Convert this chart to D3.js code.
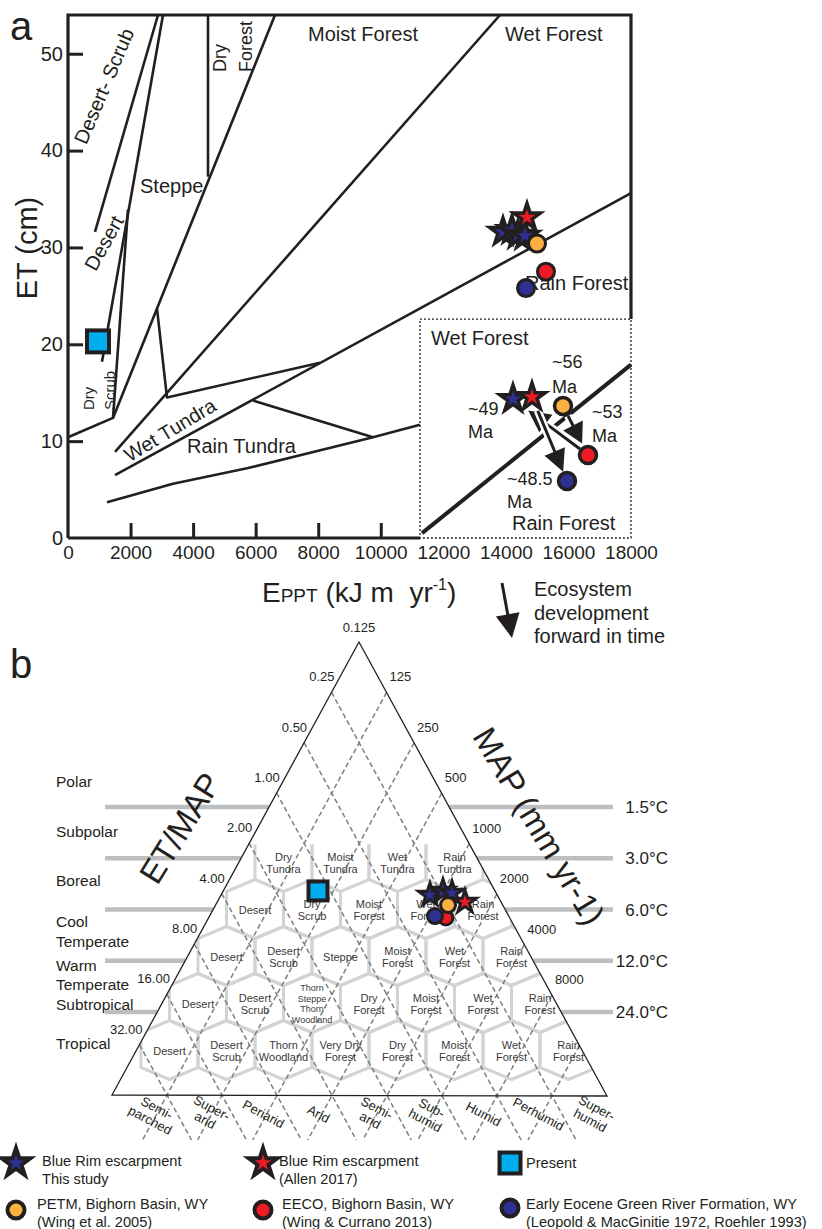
<!DOCTYPE html>
<html>
<head>
<meta charset="utf-8">
<script src="https://cdn.jsdelivr.net/npm/d3@7"></script>
<style>
  body { margin: 0; background: #fff; }
  svg { display: block; font-family: "Liberation Sans", Arial, sans-serif; }
</style>
</head>
<body>
<svg id="chart" width="822" height="1229"></svg>
<script>
// ---------- panel a: EPPT (kJ m-2 yr-1) vs ET (cm) ----------
const epptTicks = [0, 2000, 4000, 6000, 8000, 10000, 12000, 14000, 16000, 18000];
const epptMarks = [2000, 4000, 6000, 8000, 10000];
const etTicks = [0, 10, 20, 30, 40, 50];

// life-zone boundaries, [EPPT, ET]
const desertScrubLine = [[2877, 54], [863, 31.6]];
const desertLine = [[3037, 54], [1087, 18.2]];
const dryScrubLine = [[1918, 33.9], [1439, 12.4], [0, 10.4]];
const steppeLine = [[6618, 54], [1439, 12.4]];
const dryForestLine = [[4476, 54], [4476, 37.3]];
const moistWetLine = [[13812, 54], [1503, 8.9]];
const tundraSpur = [[2845, 23.7], [3165, 14.5], [8057, 18.1]];
const wetRainLine = [[1503, 6.5], [18000, 35.6]];
const rainTundraTop = [[5915, 14.2], [9751, 10.4]];
const rainTundraBase = [[1247, 3.7], [3357, 5.6], [5723, 7.2], [9751, 10.4], [11254, 11.7]];
const insetLine = [[11320, 0.5], [18000, 17.9]];
const insetBox = [11254, 18000, 0, 22.6];

// sites
const blueRimA = [[13908, 31.6], [14195, 31.8], [14387, 31.3], [14611, 31.2]];
const allenA = [14675, 33.1];
const petmA = [14995, 30.4];
const eecoA = [15282, 27.5];
const greenRiverA = [14643, 25.8];
const presentA = [959, 20.3];
// enlarged sketch in the dotted box
const blueRimInset = [14227, 14.35];
const allenInset = [14835, 14.56];
const petmInset = [15826, 13.63];
const eecoInset = [16625, 8.57];
const greenRiverInset = [15954, 5.89];

// ---------- panel b: Holdridge triangle ----------
const petRatioTicks = [0.25, 0.5, 1, 2, 4, 8, 16, 32];
const petRatioLabels = ['0.25', '0.50', '1.00', '2.00', '4.00', '8.00', '16.00', '32.00'];
const mapTicks = [125, 250, 500, 1000, 2000, 4000, 8000, 16000];
const mapLabels = ['125', '250', '500', '1000', '2000', '4000', '8000', ''];
const humidity = [['Semi-', 'parched'], ['Super-', 'arid'], ['Periarid'], ['Arid'], ['Semi-', 'arid'],
  ['Sub-', 'humid'], ['Humid'], ['Perhumid'], ['Super-', 'humid']];
const biotemps = [1.5, 3, 6, 12, 24];
const tempLabels = ['1.5\u00b0C', '3.0\u00b0C', '6.0\u00b0C', '12.0\u00b0C', '24.0\u00b0C'];
const belts = [['Polar'], ['Subpolar'], ['Boreal'], ['Cool', 'Temperate'], ['Warm', 'Temperate', 'Subtropical'], ['Tropical']];
// life zones, bottom row first
const lifeZones = [
  ['Desert', 'Desert Scrub', 'Thorn Woodland', 'Very Dry Forest', 'Dry Forest', 'Moist Forest', 'Wet Forest', 'Rain Forest'],
  ['Desert', 'Desert Scrub', 'Thorn Steppe Thorn Woodland', 'Dry Forest', 'Moist Forest', 'Wet Forest', 'Rain Forest'],
  ['Desert', 'Desert Scrub', 'Steppe', 'Moist Forest', 'Wet Forest', 'Rain Forest'],
  ['Desert', 'Dry Scrub', 'Moist Forest', 'Wet Forest', 'Rain Forest'],
  ['Dry Tundra', 'Moist Tundra', 'Wet Tundra', 'Rain Tundra']
];
// sites as [ET/MAP, MAP mm]
const blueRimB = [[0.292, 867], [0.241, 994], [0.218, 1129]];
const allenB = [0.197, 1413];
const petmB = [0.249, 1166];
const eecoB = [0.280, 1242];
const greenRiverB = [0.317, 1067];
const presentB = [1.166, 206];

const ink = '#231f20';
const col = { blue: '#2e3192', red: '#ed1c24', orange: '#fbb040', cyan: '#00aeef' };
const svg = d3.select('#chart');

// draw one marker
function mark(g, type, p, fill, r, sw) {
  if (type === 'star') {
    g.append('path').attr('d', d3.symbol(d3.symbolStar, r * r / 0.8908)())
      .attr('transform', `translate(${p[0]},${p[1]})`)
      .attr('fill', fill).attr('stroke', ink).attr('stroke-width', sw).attr('stroke-linejoin', 'miter');
  } else if (type === 'circle') {
    g.append('circle').attr('cx', p[0]).attr('cy', p[1]).attr('r', r)
      .attr('fill', fill).attr('stroke', ink).attr('stroke-width', sw);
  } else {
    g.append('rect').attr('x', p[0] - r).attr('y', p[1] - r).attr('width', 2 * r).attr('height', 2 * r)
      .attr('fill', fill).attr('stroke', ink).attr('stroke-width', sw);
  }
}

function arrow(g, p0, p1, trim0, trim1, head, halfW, halo) {
  const dx = p1[0] - p0[0], dy = p1[1] - p0[1], len = Math.hypot(dx, dy);
  const ux = dx / len, uy = dy / len;
  const s = [p0[0] + ux * trim0, p0[1] + uy * trim0];
  const tip = [p1[0] - ux * trim1, p1[1] - uy * trim1];
  const b = [tip[0] - ux * head, tip[1] - uy * head];
  const tri = 'M' + [tip, [b[0] - uy * halfW, b[1] + ux * halfW], [b[0] + uy * halfW, b[1] - ux * halfW]].join('L') + 'Z';
  if (halo) {
    g.append('line').attr('x1', s[0]).attr('y1', s[1]).attr('x2', b[0]).attr('y2', b[1])
      .attr('stroke', '#fff').attr('stroke-width', 8);
    g.append('path').attr('d', tri).attr('fill', '#fff').attr('stroke', '#fff').attr('stroke-width', 4);
  }
  g.append('line').attr('x1', s[0]).attr('y1', s[1]).attr('x2', b[0] + ux * 2).attr('y2', b[1] + uy * 2)
    .attr('stroke', ink).attr('stroke-width', 3);
  g.append('path').attr('d', tri).attr('fill', ink);
}

function label(g, txt, px, py, size, opt = {}) {
  const t = g.append('text').attr('font-size', size).attr('fill', opt.fill || ink)
    .attr('text-anchor', opt.anchor || 'start')
    .attr('transform', `translate(${px},${py})` + (opt.rot ? ` rotate(${opt.rot})` : ''))
    .text(txt);
  if (opt.dy) t.attr('dy', opt.dy);
  return t;
}

// ================= panel a =================
const x = d3.scaleLinear().domain([0, 18000]).range([68, 631]);
const y = d3.scaleLinear().domain([0, 54]).range([538, 15]);
const line = d3.line().x(d => x(d[0])).y(d => y(d[1]));
const ga = svg.append('g');

ga.selectAll('path.zone')
  .data([desertScrubLine, desertLine, dryScrubLine, steppeLine, dryForestLine, moistWetLine,
    tundraSpur, wetRainLine, rainTundraTop, rainTundraBase])
  .join('path').attr('class', 'zone').attr('d', line)
  .attr('fill', 'none').attr('stroke', ink).attr('stroke-width', 2.6).attr('stroke-linejoin', 'round');

// inset box and its boundary
ga.append('rect').attr('x', x(insetBox[0])).attr('y', y(insetBox[3]))
  .attr('width', x(insetBox[1]) - x(insetBox[0])).attr('height', y(insetBox[2]) - y(insetBox[3]))
  .attr('fill', 'none').attr('stroke', ink).attr('stroke-width', 1.3).attr('stroke-dasharray', '2,2');
ga.append('path').attr('d', line(insetLine)).attr('fill', 'none').attr('stroke', ink).attr('stroke-width', 4);

// frame
ga.append('path')
  .attr('d', `M${x(0)},${y(0)}V${y(54)}H${x(18000)}V${y(insetBox[3])}M${x(0)},${y(0)}H${x(insetBox[0])}`)
  .attr('fill', 'none').attr('stroke', ink).attr('stroke-width', 3.2);

// axes
const yAxis = ga.append('g').attr('transform', `translate(${x(0)},0)`)
  .call(d3.axisLeft(y).tickValues(etTicks).tickFormat(d3.format('d'))
    .tickSizeInner(-15).tickSizeOuter(0).tickPadding(5));
yAxis.attr('font-family', null).attr('font-size', null);
yAxis.select('.domain').remove();
yAxis.selectAll('.tick line').attr('stroke', ink).attr('stroke-width', 3).filter(d => d === 0).remove();
yAxis.selectAll('.tick text').attr('font-size', 20).attr('fill', ink);

const xAxis = ga.append('g').attr('transform', `translate(0,${y(0)})`)
  .call(d3.axisBottom(x).tickValues(epptTicks).tickFormat(d3.format('d'))
    .tickSizeInner(-15).tickSizeOuter(0).tickPadding(8));
xAxis.attr('font-family', null).attr('font-size', null);
xAxis.select('.domain').remove();
xAxis.selectAll('.tick line').attr('stroke', ink).attr('stroke-width', 3)
  .filter(d => !epptMarks.includes(d)).remove();
xAxis.selectAll('.tick text').attr('font-size', 19).attr('fill', ink);

// axis titles
label(ga, 'a', 10, 40, 40);
label(ga, 'ET (cm)', 37, 248, 29, { rot: -90, anchor: 'middle' });
const xt = ga.append('text').attr('x', 262).attr('y', 602).attr('font-size', 28).attr('fill', ink);
xt.append('tspan').text('E');
xt.append('tspan').attr('font-size', 19).text('PPT');
xt.append('tspan').text(' (kJ m\u00a0\u00a0yr');
xt.append('tspan').attr('font-size', 16).attr('dy', -12).text('-1');
xt.append('tspan').attr('dy', 12).text(')');

// zone names
label(ga, 'Desert- Scrub', 104, 86, 20, { rot: -67, anchor: 'middle', dy: '0.35em' });
label(ga, 'Desert', 104, 243, 20, { rot: -61, anchor: 'middle', dy: '0.35em' });
label(ga, 'Steppe', 140, 193, 20);
label(ga, 'Dry', 226, 72, 18, { rot: -90 });
label(ga, 'Forest', 252, 72, 18, { rot: -90 });
label(ga, 'Moist Forest', 308, 41, 20);
label(ga, 'Wet Forest', 505, 41, 20);
label(ga, 'Rain Forest', 525, 290, 20);
label(ga, 'Dry', 94, 410, 15, { rot: -90 });
label(ga, 'Scrub', 115, 410, 15, { rot: -90 });
label(ga, 'Wet Tundra', 170, 430, 20, { rot: -31, anchor: 'middle', dy: '0.35em' });
label(ga, 'Rain Tundra', 187, 453, 20);
label(ga, 'Wet Forest', 431, 345, 20);
label(ga, 'Rain Forest', 512, 530, 20);

// inset arrows, ages and sites
const P = d => [x(d[0]), y(d[1])];
arrow(ga, P(petmInset), P(eecoInset), 11, 13, 20, 11, true);
arrow(ga, P(eecoInset), P(blueRimInset), 10, 19, 22, 11, true);
arrow(ga, P(allenInset), P(greenRiverInset), 15, 10, 22, 11, true);
[['~56', 552, 368], ['Ma', 552, 393], ['~49', 468, 415], ['Ma', 468, 438],
 ['~53', 592, 418], ['Ma', 592, 442], ['~48.5', 507, 485], ['Ma', 507, 508]]
  .forEach(d => label(ga, d[0], d[1], d[2], 18));
mark(ga, 'star', P(blueRimInset), col.blue, 14, 3.5);
mark(ga, 'star', P(allenInset), col.red, 14, 3.5);
mark(ga, 'circle', P(petmInset), col.orange, 8.5, 3.5);
mark(ga, 'circle', P(eecoInset), col.red, 8.5, 3.5);
mark(ga, 'circle', P(greenRiverInset), col.blue, 8.5, 3.5);

// main sites
blueRimA.forEach(d => mark(ga, 'star', P(d), col.blue, 14, 3.5));
mark(ga, 'star', P(allenA), col.red, 14, 3.5);
mark(ga, 'circle', P(petmA), col.orange, 8.5, 3);
mark(ga, 'circle', P(eecoA), col.red, 8.5, 3);
mark(ga, 'circle', P(greenRiverA), col.blue, 8.5, 3);
mark(ga, 'square', P(presentA), col.cyan, 11, 4);

// time arrow
arrow(ga, [502, 583], [512, 638], 0, 0, 24, 12, false);
[['Ecosystem', 596], ['development', 620], ['forward in time', 643]]
  .forEach(d => label(ga, d[0], 534, d[1], 20));

// ================= panel b =================
const gb = svg.append('g');
const A = [359, 642], Lc = [112, 1095], Rc = [607, 1096];
const petScale = d3.scaleLog().base(2).domain([0.125, 64]).range([0, 1]);
const mapScale = d3.scaleLog().base(2).domain([62.5, 32000]).range([0, 1]);
const tern = (ratio, map) => {
  const a = petScale(ratio), b = mapScale(map);
  return [A[0] + a * (Lc[0] - A[0]) + b * (Rc[0] - A[0]), A[1] + a * (Lc[1] - A[1]) + b * (Rc[1] - A[1])];
};
const sideX = (yy, c) => A[0] + (yy - A[1]) * (c[0] - A[0]) / (c[1] - A[1]);
const beltY = d3.scaleLog().base(2).domain([1.5, 24]).range([807, 1012]);

// biotemperature belts
biotemps.forEach((t, i) => {
  const yy = beltY(t);
  gb.append('line').attr('x1', 105).attr('x2', sideX(yy, Lc)).attr('y1', yy).attr('y2', yy)
    .attr('stroke', '#bcbec0').attr('stroke-width', 4.5);
  gb.append('line').attr('x1', sideX(yy, Rc)).attr('x2', 613).attr('y1', yy).attr('y2', yy)
    .attr('stroke', '#bcbec0').attr('stroke-width', 4.5);
  label(gb, tempLabels[i], 668, yy + 6, 17, { anchor: 'end' });
});
const beltMid = [782, 832, 881, 932, 985, 1044];
belts.forEach((b, i) => b.forEach((s, j) =>
  label(gb, s, 56, beltMid[i] + (j - (b.length - 1) / 2) * 19.5 + 5, 15.5)));

// hexagons
gb.append('clipPath').attr('id', 'tri').append('path')
  .attr('d', 'M' + [A, Lc, Rc].join('L') + 'Z');
const hexW = 57, hexH = 59, hexE = 35, rowStep = 47;
const hexG = gb.append('g').attr('clip-path', 'url(#tri)')
  .attr('fill', 'none').attr('stroke', '#d1d3d4').attr('stroke-width', 3);
const hexCenter = (r, i) => [169.5 + hexW * i + hexW / 2 * r, 1050 - rowStep * r];
lifeZones.forEach((row, r) => row.forEach((name, i) => {
  const [cx, cy] = hexCenter(r, i);
  const d = r < lifeZones.length - 1
    ? `M${cx},${cy - hexH / 2}L${cx + hexW / 2},${cy - hexE / 2}V${cy + hexE / 2}L${cx},${cy + hexH / 2}L${cx - hexW / 2},${cy + hexE / 2}V${cy - hexE / 2}Z`
    : `M${cx - hexW / 2},${cy - hexE / 2}V${cy + hexE / 2}M${cx + hexW / 2},${cy - hexE / 2}V${cy + hexE / 2}`;
  hexG.append('path').attr('d', d);
}));

// guide lines (dashed), extended below the base
const yEnd = 1140;
const dashG = gb.append('g').attr('stroke', '#7f7f7f').attr('stroke-width', 1.5)
  .attr('stroke-dasharray', '5,3').attr('fill', 'none');
petRatioTicks.forEach(v => {
  const p = tern(v, 62.5), t = (yEnd - p[1]) / (Rc[1] - A[1]);
  dashG.append('line').attr('x1', p[0]).attr('y1', p[1])
    .attr('x2', p[0] + t * (Rc[0] - A[0])).attr('y2', yEnd);
});
mapTicks.forEach(v => {
  const p = tern(0.125, v), t = (yEnd - p[1]) / (Lc[1] - A[1]);
  dashG.append('line').attr('x1', p[0]).attr('y1', p[1])
    .attr('x2', p[0] + t * (Lc[0] - A[0])).attr('y2', yEnd);
});
gb.append('path').attr('d', 'M' + [A, Lc, Rc].join('L') + 'Z')
  .attr('fill', 'none').attr('stroke', ink).attr('stroke-width', 1.3);

// tick labels
label(gb, '0.125', A[0], A[1] - 10, 13, { anchor: 'middle' });
petRatioTicks.forEach((v, i) => {
  const p = tern(v, 62.5);
  label(gb, petRatioLabels[i], p[0] + 3, p[1] - 11, 13, { anchor: 'end' });
});
mapTicks.forEach((v, i) => {
  const p = tern(0.125, v);
  label(gb, mapLabels[i], p[0] + 3, p[1] - 11, 13);
});
label(gb, 'b', 10, 678, 40);
label(gb, 'ET/MAP', 180, 828, 33, { rot: -58, anchor: 'middle', dy: '0.35em' });
label(gb, 'MAP (mm yr-1)', 539, 826, 33, { rot: 59, anchor: 'middle', dy: '0.35em' });

// humidity provinces
const baseStep = (Rc[0] - Lc[0]) / 9;
humidity.forEach((h, i) => {
  const g = gb.append('g').attr('transform', `translate(${Lc[0] + (i + 0.5) * baseStep + 14},1114) rotate(28)`);
  h.forEach((s, j) => g.append('text').attr('y', (j - (h.length - 1) / 2) * 14).attr('dy', '0.35em')
    .attr('text-anchor', 'middle').attr('font-size', 13).attr('fill', ink).text(s));
});

// life-zone names
lifeZones.forEach((row, r) => row.forEach((name, i) => {
  const [cx, cy] = hexCenter(r, i);
  let lines = name.split(' '), fs = 11, lh = 12.5;
  if (name === 'Very Dry Forest') lines = ['Very Dry', 'Forest'];
  if (lines.length > 2) { fs = 9; lh = 10.5; }
  lines.forEach((s, j) => gb.append('text').attr('x', cx).attr('y', cy + 1 + (j - (lines.length - 1) / 2) * lh)
    .attr('dy', '0.35em').attr('text-anchor', 'middle').attr('font-size', fs).attr('fill', '#3a3a3a').text(s));
}));

// sites on the triangle
blueRimB.forEach(d => mark(gb, 'star', tern(d[0], d[1]), col.blue, 12, 3));
mark(gb, 'star', tern(allenB[0], allenB[1]), col.red, 12, 3);
mark(gb, 'circle', tern(eecoB[0], eecoB[1]), col.red, 7, 3);
mark(gb, 'circle', tern(greenRiverB[0], greenRiverB[1]), col.blue, 7.5, 3);
mark(gb, 'circle', tern(petmB[0], petmB[1]), col.orange, 7.5, 3);
mark(gb, 'square', tern(presentB[0], presentB[1]), col.cyan, 9.5, 4);

// ================= legend =================
const gl = svg.append('g');
const legend = [
  { type: 'star', fill: col.blue, at: [16, 1163], tx: 42, ty: 1166, lines: ['Blue Rim escarpment', 'This study'] },
  { type: 'star', fill: col.red, at: [263, 1163], tx: 279, ty: 1166, lines: ['Blue Rim escarpment', '(Allen 2017)'] },
  { type: 'square', fill: col.cyan, at: [510, 1163], tx: 526, ty: 1168, lines: ['Present'] },
  { type: 'circle', fill: col.orange, at: [16, 1210], tx: 37, ty: 1209, lines: ['PETM, Bighorn Basin, WY', '(Wing et al. 2005)'] },
  { type: 'circle', fill: col.red, at: [263, 1210], tx: 282, ty: 1209, lines: ['EECO, Bighorn Basin, WY', '(Wing & Currano 2013)'] },
  { type: 'circle', fill: col.blue, at: [510, 1208], tx: 526, ty: 1209, lines: ['Early Eocene Green River Formation, WY', '(Leopold & MacGinitie 1972, Roehler 1993)'] }
];
legend.forEach(l => {
  if (l.type === 'star') mark(gl, 'star', l.at, l.fill, 15, 4);
  else if (l.type === 'circle') mark(gl, 'circle', l.at, l.fill, 8.5, 4);
  else mark(gl, 'square', l.at, l.fill, 10.5, 4);
  l.lines.forEach((s, j) => label(gl, s, l.tx, l.ty + j * 18, 14.6));
});
</script>
</body>
</html>
